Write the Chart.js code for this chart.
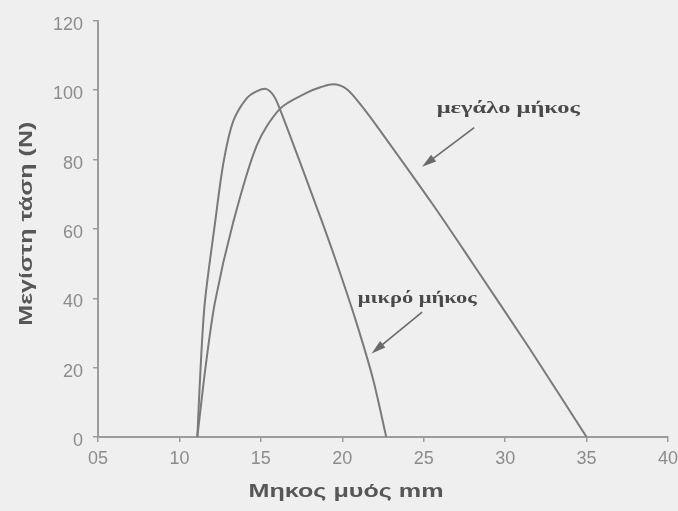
<!DOCTYPE html>
<html lang="el">
<head>
<meta charset="UTF-8">
<title>Μέγιστη τάση - μήκος μυός</title>
<script src="https://cdn.jsdelivr.net/npm/chart.js"></script>
<style>
  html, body { margin: 0; padding: 0; background: #efefef; }
  #wrap { width: 678px; height: 511px; }
</style>
</head>
<body>
<div id="wrap"><canvas id="chart" width="678" height="511"></canvas></div>
<script>
// x ticks (mm) and y range (N)
const xTicks = [5, 10, 15, 20, 25, 30, 35, 40];
const yTicks = [0, 20, 40, 60, 80, 100, 120];

// "μικρό μήκος" curve
const shortX = [11.1, 11.3, 11.56, 12.18, 12.7, 13.3, 14.14, 14.8, 15.35, 15.8, 16.2, 17.5, 18.8, 19.66, 20.8, 21.87, 22.7];
const shortY = [0, 20, 38.8, 61.5, 79, 91, 97.7, 99.8, 100.3, 98.3, 94.2, 78, 61.5, 50.1, 34, 17, 0];

// "μεγάλο μήκος" curve
const longX = [11.1, 11.6, 12.18, 13.28, 14.75, 16.17, 17.8, 18.7, 19.5, 20.3, 21.2, 22.3, 25.55, 28.0, 31.5, 35.0];
const longY = [0, 20, 38.8, 61.5, 84.1, 94.6, 99.2, 100.9, 101.7, 100.2, 95.4, 88.5, 67.1, 50.1, 25.5, 0];

const toPoints = (xs, ys) => xs.map((x, i) => ({ x: x, y: ys[i] }));

// annotation labels with arrows (data coordinates)
const notes = [
  { text: 'μεγάλο μήκος', at: [25.8, 93.5], w: 143, from: [28.1, 89.2], to: [24.9, 77.9] },
  { text: 'μικρό μήκος', at: [20.95, 38.5], w: 119, from: [24.9, 36.0], to: [21.8, 24.1] }
];

const INK = '#7a7a7a';
const AXIS = '#9c9c9c';
const TICK = '#8c8c8c';
const TITLE = '#575757';

// draw text squeezed/stretched to a given width
function fitText(ctx, text, x, y, width) {
  const w = ctx.measureText(text).width;
  ctx.save();
  ctx.translate(x, y);
  ctx.scale(width / w, 1);
  ctx.fillText(text, 0, 0);
  ctx.restore();
}

const decorPlugin = {
  id: 'decor',
  beforeDraw(chart) {
    const ctx = chart.ctx;
    ctx.save();
    ctx.fillStyle = '#efefef';
    ctx.fillRect(0, 0, chart.width, chart.height);
    ctx.restore();
  },
  afterDraw(chart) {
    const ctx = chart.ctx;
    const xs = chart.scales.x, ys = chart.scales.y;

    // axis titles
    ctx.save();
    ctx.fillStyle = TITLE;
    ctx.font = 'bold 19px "Liberation Sans", Arial, sans-serif';
    ctx.textBaseline = 'alphabetic';
    ctx.textAlign = 'left';
    fitText(ctx, 'Μηκος μυός mm', xs.getPixelForValue(20.2) - 97, 497, 195);

    ctx.translate(32, ys.getPixelForValue(61.5));
    ctx.rotate(-Math.PI / 2);
    fitText(ctx, 'Μεγίστη τάση (N)', -102, 0, 204);
    ctx.restore();

    // annotations
    ctx.save();
    ctx.font = 'bold 16px "Liberation Serif", "DejaVu Serif", serif';
    ctx.textBaseline = 'alphabetic';
    notes.forEach(n => {
      ctx.fillStyle = '#4a4a4a';
      fitText(ctx, n.text, xs.getPixelForValue(n.at[0]), ys.getPixelForValue(n.at[1]), n.w);
      const x1 = xs.getPixelForValue(n.from[0]), y1 = ys.getPixelForValue(n.from[1]);
      const x2 = xs.getPixelForValue(n.to[0]), y2 = ys.getPixelForValue(n.to[1]);
      const ang = Math.atan2(y2 - y1, x2 - x1);
      const head = 15;
      ctx.strokeStyle = '#6a6a6a';
      ctx.fillStyle = '#6a6a6a';
      ctx.lineWidth = 1.6;
      ctx.beginPath();
      ctx.moveTo(x1, y1);
      ctx.lineTo(x2 - head * 0.8 * Math.cos(ang), y2 - head * 0.8 * Math.sin(ang));
      ctx.stroke();
      ctx.beginPath();
      ctx.moveTo(x2, y2);
      ctx.lineTo(x2 - head * Math.cos(ang - 0.28), y2 - head * Math.sin(ang - 0.28));
      ctx.lineTo(x2 - head * Math.cos(ang + 0.28), y2 - head * Math.sin(ang + 0.28));
      ctx.closePath();
      ctx.fill();
    });
    ctx.restore();
  }
};

const lineStyle = {
  showLine: true,
  borderColor: INK,
  borderWidth: 2,
  pointRadius: 0,
  fill: false,
  tension: 0.3
};

new Chart(document.getElementById('chart'), {
  type: 'scatter',
  data: {
    datasets: [
      Object.assign({ label: 'μικρό μήκος', data: toPoints(shortX, shortY) }, lineStyle),
      Object.assign({ label: 'μεγάλο μήκος', data: toPoints(longX, longY) }, lineStyle)
    ]
  },
  options: {
    responsive: false,
    animation: false,
    layout: { padding: { top: 13, right: 0, left: 0, bottom: 0 } },
    plugins: { legend: { display: false }, tooltip: { enabled: false } },
    scales: {
      x: {
        type: 'linear',
        min: xTicks[0],
        max: xTicks[xTicks.length - 1],
        afterBuildTicks: s => { s.ticks = xTicks.map(v => ({ value: v })); },
        afterFit: s => { s.height = 74; s.paddingRight = 10; s.paddingLeft = 0; },
        border: { color: AXIS, width: 2 },
        grid: { drawOnChartArea: false, color: AXIS, tickLength: 5, lineWidth: 1.5 },
        ticks: {
          color: TICK,
          padding: 6,
          font: { family: '"Liberation Sans", Arial, sans-serif', size: 18 },
          callback: v => (v < 10 ? '0' + v : String(v))
        }
      },
      y: {
        type: 'linear',
        min: yTicks[0],
        max: yTicks[yTicks.length - 1],
        afterBuildTicks: s => { s.ticks = yTicks.map(v => ({ value: v })); },
        afterFit: s => { s.width = 98; },
        border: { color: AXIS, width: 2 },
        grid: { drawOnChartArea: false, color: AXIS, tickLength: 5, lineWidth: 1.5 },
        ticks: {
          color: TICK,
          padding: 10,
          labelOffset: 4,
          font: { family: '"Liberation Sans", Arial, sans-serif', size: 18 }
        }
      }
    }
  },
  plugins: [decorPlugin]
});
</script>
</body>
</html>
